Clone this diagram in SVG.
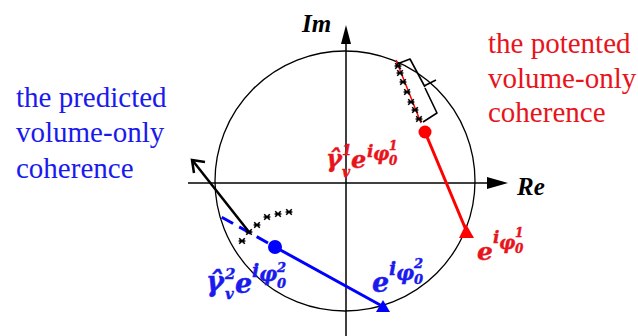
<svg xmlns="http://www.w3.org/2000/svg" width="638" height="336" viewBox="0 0 638 336">
<style>
.lbl{font-family:"Liberation Serif","Times New Roman","DejaVu Serif",serif;font-size:29px;font-weight:normal;font-style:normal}
.ax{font-family:"Liberation Serif","Times New Roman",serif;font-size:25px;font-weight:bold;font-style:italic;fill:#000}
.m{font-family:"DejaVu Serif",serif;font-weight:bold;font-style:italic;stroke-width:0.4}
.red{fill:#e8141c}
.blue{fill:#1a1aee}
.m.red{stroke:#e8141c}
.m.blue{stroke:#1a1aee}
.thin{fill:none;stroke:#000;stroke-width:1.3}
.st{fill:none;stroke:#000;stroke-width:1.6}
</style>
<defs>
<g id="star"><path class="st" d="M-2.8,-2.8L2.8,2.8M-2.8,2.8L2.8,-2.8M-3.4,0L3.4,0"/></g>
</defs>
<rect width="638" height="336" fill="#fff"/>
<g id="circle"><circle cx="345" cy="181" r="130" class="thin"/></g>
<g id="connectors">
<g id="axes">
<line x1="188" y1="183" x2="492" y2="183" stroke="#000" stroke-width="1.5"/>
<polygon points="508,183 487,177 487,189" fill="#000"/>
<line x1="346" y1="336" x2="346" y2="40" stroke="#000" stroke-width="1.5"/>
<polygon points="346,25 341,44 351,44" fill="#000"/>
</g>
<g id="red-vector">
<line x1="425" y1="132" x2="466" y2="230" stroke="#ff0000" stroke-width="3"/>
<circle cx="425" cy="132" r="6.5" fill="#ff0000"/>
<polygon points="466,224 459,238 474,238" fill="#ff0000"/>
</g>
<g id="blue-vector">
<line x1="275" y1="247" x2="382" y2="306" stroke="#0000ff" stroke-width="3"/>
<line x1="268" y1="243" x2="216" y2="214" stroke="#0000ff" stroke-width="3" stroke-dasharray="13,7"/>
<circle cx="275" cy="247" r="7" fill="#0000ff"/>
<polygon points="383,300 376,312 390,312" fill="#0000ff"/>
</g>
<g id="black-arrow">
<line x1="249" y1="232" x2="193" y2="161" stroke="#000" stroke-width="2.5"/>
<polyline points="194,173 192,160 205,162" fill="none" stroke="#000" stroke-width="2.5" stroke-linejoin="miter"/>
</g>
<g id="lower-stars">
<use href="#star" x="242" y="241"/>
<use href="#star" x="249" y="232"/>
<use href="#star" x="257" y="225"/>
<use href="#star" x="267" y="217"/>
<use href="#star" x="278" y="214"/>
<use href="#star" x="289" y="212"/>
</g>
<g id="upper-stars">
<line x1="396" y1="60" x2="421" y2="123" stroke="#ff0000" stroke-width="1.5"/>
<use href="#star" x="398" y="66"/>
<use href="#star" x="400" y="73"/>
<use href="#star" x="403" y="82"/>
<use href="#star" x="407" y="92"/>
<use href="#star" x="411" y="102"/>
<use href="#star" x="415" y="110"/>
<use href="#star" x="419" y="119"/>
<path d="M397,64 L410,59 L425,87 M424,86 L436,80 M425,88 L437,113 L423,122" fill="none" stroke="#000" stroke-width="1.6" stroke-linejoin="round"/>
</g>
</g>
<g id="axis-labels">
<text class="ax" x="302" y="32">Im</text>
<text class="ax" x="517" y="195">Re</text>
</g>
<g id="label-potented">
<text class="lbl red" x="488" y="53">the potented</text>
<text class="lbl red" x="488" y="88">volume-only</text>
<text class="lbl red" x="488" y="122">coherence</text>
</g>
<g id="label-predicted">
<text class="lbl blue" x="16" y="107">the predicted</text>
<text class="lbl blue" x="16" y="142">volume-only</text>
<text class="lbl blue" x="16" y="178">coherence</text>
</g>
<g id="math-red-gamma" class="m red">
<text x="326" y="167" font-size="24">γ̂</text>
<text x="342" y="155" font-size="14">1</text>
<text x="342" y="177" font-size="14">v</text>
<text x="351" y="168" font-size="24">e</text>
<text x="367" y="157" font-size="17">i</text>
<text x="373" y="160" font-size="18">φ</text>
<text x="389" y="150" font-size="12">1</text>
<text x="389" y="165" font-size="12">0</text>
</g>
<g id="math-red-e" class="m red">
<text x="477" y="260" font-size="25">e</text>
<text x="493" y="243" font-size="17">i</text>
<text x="499" y="249" font-size="18">φ</text>
<text x="515" y="237" font-size="12">1</text>
<text x="515" y="253" font-size="12">0</text>
</g>
<g id="math-blue-gamma" class="m blue">
<text x="206" y="291" font-size="27">γ̂</text>
<text x="225" y="279" font-size="15">2</text>
<text x="225" y="299" font-size="15">v</text>
<text x="235" y="293" font-size="27">e</text>
<text x="252" y="277" font-size="19">i</text>
<text x="259" y="281" font-size="20">φ</text>
<text x="277" y="272" font-size="13">2</text>
<text x="277" y="288" font-size="13">0</text>
</g>
<g id="math-blue-e" class="m blue">
<text x="372" y="292" font-size="27">e</text>
<text x="389" y="275" font-size="19">i</text>
<text x="396" y="280" font-size="20">φ</text>
<text x="414" y="268" font-size="13">2</text>
<text x="414" y="284" font-size="13">0</text>
</g>
</svg>
